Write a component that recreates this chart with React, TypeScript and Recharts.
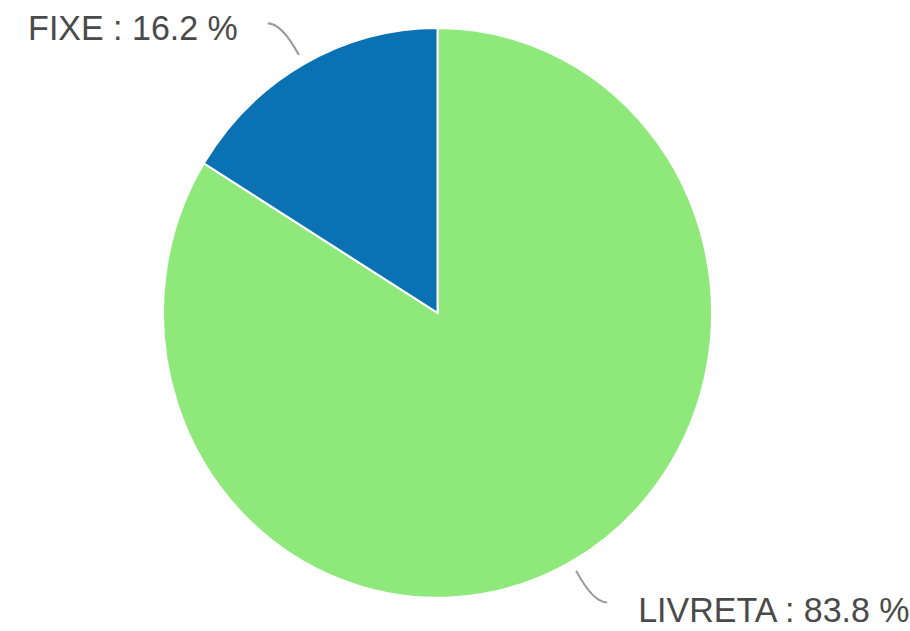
import { Pie, PieChart, Cell } from "recharts";

const NAMES = ["LIVRETA", "FIXE"];
const SHARES = [83.8, 16.2];
const COLORS = ["#8ee87a", "#0a72b3"];

const data = NAMES.map((name, i) => ({ name, value: SHARES[i] }));

const RAD = Math.PI / 180;
// the reference is slightly stretched vertically
const STRETCH = 1.038;

function point(cx: number, cy: number, r: number, angle: number) {
  return { x: cx + r * Math.cos(-angle * RAD), y: cy + r * Math.sin(-angle * RAD) };
}

function renderLabel(props: any) {
  const { cx, cy, midAngle, outerRadius, index } = props;
  const el = point(cx, cy, outerRadius + 45, midAngle);
  const right = Math.cos(-midAngle * RAD) >= 0;
  const down = Math.sin(-midAngle * RAD) > 0;
  return (
    <text
      x={el.x + (right ? 45 : -44)}
      y={el.y + (down ? 7 : 4)}
      textAnchor={right ? "start" : "end"}
      dominantBaseline="central"
      fill="#4a4a4a"
      fontSize={34}
      fontFamily="'Liberation Sans', Arial, sans-serif"
    >
      {`${NAMES[index]} : ${SHARES[index]} %`}
    </text>
  );
}

function renderLine(props: any) {
  const { cx, cy, midAngle, outerRadius } = props;
  const p1 = point(cx, cy, outerRadius + 10, midAngle);
  const p2 = point(cx, cy, outerRadius + 45, midAngle);
  const right = Math.cos(-midAngle * RAD) >= 0;
  const endX = p2.x + (right ? 14 : -14);
  return (
    <path
      d={`M${p1.x},${p1.y} Q${p2.x},${p2.y} ${endX},${p2.y}`}
      stroke="#9a9a9a"
      strokeWidth={2}
      fill="none"
    />
  );
}

export default function App() {
  return (
    <div style={{ position: "absolute", left: 0, top: 0, width: 910, height: 631, background: "#fff", overflow: "hidden" }}>
      <div style={{ transform: `scale(1, ${STRETCH})`, transformOrigin: "0 0" }}>
        <PieChart width={910} height={608} margin={{ top: 0, right: 0, bottom: 0, left: 0 }}>
          <Pie
            data={data}
            dataKey="value"
            nameKey="name"
            cx={437.5}
            cy={301.5}
            outerRadius={274.5}
            startAngle={90}
            endAngle={-270}
            stroke="#ffffff"
            strokeWidth={2}
            label={renderLabel}
            labelLine={renderLine}
            isAnimationActive={false}
          >
            {data.map((d, i) => (
              <Cell key={d.name} fill={COLORS[i]} />
            ))}
          </Pie>
        </PieChart>
      </div>
    </div>
  );
}
